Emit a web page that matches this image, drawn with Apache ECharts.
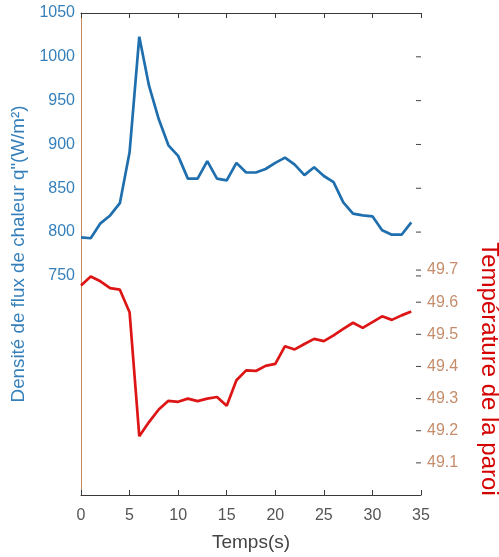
<!DOCTYPE html>
<html>
<head>
<meta charset="utf-8">
<script src="https://cdn.jsdelivr.net/npm/echarts@6/dist/echarts.min.js"></script>
<style>
  html, body { margin: 0; padding: 0; background: #fff; }
  #chart { width: 499px; height: 557px; }
</style>
</head>
<body>
<div id="chart"></div>
<script>
// Time in seconds
const temps = [0,1,2,3,4,5,6,7,8,9,10,11,12,13,14,15,16,17,18,19,20,21,22,23,24,25,26,27,28,29,30,31,32,33,34];

// Heat flux density q" (W/m²)
const fluxChaleur = [794,793,810,819,833,891,1023,967,929,899,887,861,861,881,861,859,879,868,868,872,879,885,877,865,874,864,857,834,821,819,818,802,797,797,811];

// Wall temperature
const tempParoi = [49.652,49.680,49.665,49.644,49.639,49.569,49.183,49.227,49.266,49.293,49.290,49.300,49.292,49.300,49.305,49.278,49.357,49.388,49.386,49.402,49.408,49.463,49.453,49.470,49.486,49.479,49.497,49.517,49.536,49.520,49.538,49.556,49.545,49.559,49.571];

// Tick labels shown on each axis
const ticksFlux = [750,800,850,900,950,1000,1050];
const ticksTemp = [49.1,49.2,49.3,49.4,49.5,49.6,49.7];
const ticksTemps = [0,5,10,15,20,25,30,35];

// Axis ranges
const FLUX_MIN = 500, FLUX_MAX = 1050;
const TEMP_MIN = 49.0, TEMP_MAX = 50.5;
const T_MAX = 35;

const BLUE = '#1f6fae';
const BLUE_TXT = '#3580bb';
const ORANGE = '#c98658';
const ORANGE_TXT = '#c58d6c';
const DARK = '#3a3a3a';
const FONT = '"Liberation Sans", Arial, sans-serif';

// Short inward tick marks along the right edge of the plot
function rightEdgeTick(params, api) {
  const p = api.coord([api.value(0), api.value(1)]);
  return {
    type: 'line',
    shape: { x1: p[0] - 5, y1: p[1], x2: p[0], y2: p[1] },
    style: { stroke: '#444', lineWidth: 1 }
  };
}

const chart = echarts.init(document.getElementById('chart'), null, { renderer: 'canvas' });

chart.setOption({
  backgroundColor: '#fff',
  animation: false,
  grid: { left: 81, right: 78, top: 13, bottom: 58, containLabel: false },
  xAxis: [
    {
      type: 'value', min: 0, max: T_MAX, interval: 5, position: 'bottom',
      name: 'Temps(s)', nameLocation: 'middle', nameGap: 38,
      nameTextStyle: { color: '#444', fontSize: 19, fontFamily: FONT },
      axisLine: { show: true, lineStyle: { color: DARK, width: 1 } },
      axisTick: { show: true, inside: true, length: 5, lineStyle: { color: DARK } },
      axisLabel: { color: '#555', fontSize: 16, fontFamily: FONT, margin: 13, customValues: ticksTemps },
      splitLine: { show: false }
    },
    {
      type: 'value', min: 0, max: T_MAX, interval: 5, position: 'top',
      axisLine: { show: true, lineStyle: { color: DARK, width: 1 } },
      axisTick: { show: true, inside: true, length: 5, lineStyle: { color: DARK } },
      axisLabel: { show: false },
      splitLine: { show: false }
    }
  ],
  yAxis: [
    {
      type: 'value', min: FLUX_MIN, max: FLUX_MAX, interval: 50, position: 'left',
      name: 'Densité de flux de chaleur q"(W/m²)', nameLocation: 'middle', nameGap: 48,
      nameTextStyle: { color: BLUE_TXT, fontSize: 18.8, fontFamily: FONT },
      axisLine: { show: true, lineStyle: { color: '#2d8ac6', width: 1 } },
      axisTick: { show: false },
      axisLabel: { color: BLUE_TXT, fontSize: 16, fontFamily: FONT, margin: 6, customValues: ticksFlux,
                   formatter: v => String(v) },
      splitLine: { show: false }
    },
    {
      type: 'value', min: TEMP_MIN, max: TEMP_MAX, interval: 0.1, position: 'right',
      axisLine: { show: true, lineStyle: { color: ORANGE, width: 1 } },
      axisTick: { show: false },
      axisLabel: { color: ORANGE_TXT, fontSize: 16, fontFamily: FONT, margin: 6, customValues: ticksTemp,
                   formatter: v => v.toFixed(1) },
      splitLine: { show: false }
    }
  ],
  series: [
    {
      type: 'line', name: 'flux', xAxisIndex: 0, yAxisIndex: 0,
      data: temps.map((t, i) => [t, fluxChaleur[i]]),
      showSymbol: false, lineStyle: { color: BLUE, width: 2.7 }, z: 3
    },
    {
      type: 'line', name: 'paroi', xAxisIndex: 0, yAxisIndex: 1,
      data: temps.map((t, i) => [t, tempParoi[i]]),
      showSymbol: false, lineStyle: { color: '#dd1515', width: 2.7 }, z: 3
    },
    {
      // temperature ticks
      type: 'custom', xAxisIndex: 0, yAxisIndex: 1, silent: true, clip: false, z: 4,
      data: ticksTemp.map(v => [T_MAX, v]),
      renderItem: rightEdgeTick
    },
    {
      // flux ticks repeated on the right edge
      type: 'custom', xAxisIndex: 0, yAxisIndex: 0, silent: true, clip: false, z: 4,
      data: ticksFlux.slice(0, -1).map(v => [T_MAX, v]),
      renderItem: rightEdgeTick
    }
  ],
  graphic: [
    {
      type: 'text', x: 489, y: 369, rotation: -Math.PI / 2,
      style: {
        text: 'Température de la paroi', fill: '#d40000',
        font: '24px ' + FONT, align: 'center', verticalAlign: 'middle'
      }
    }
  ]
});
</script>
</body>
</html>
